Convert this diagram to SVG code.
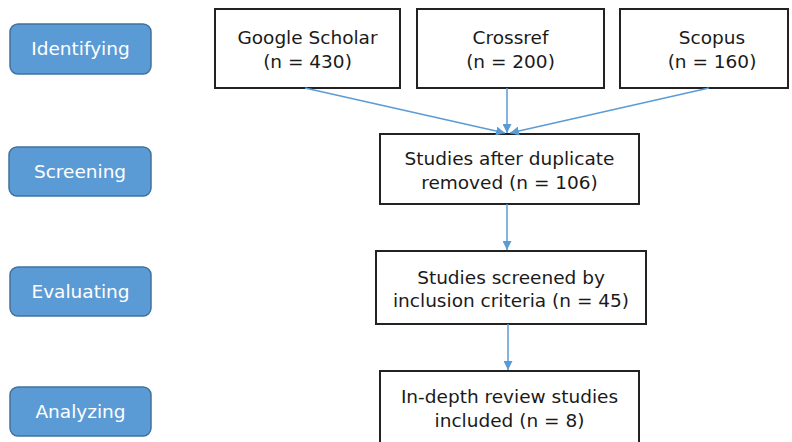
<svg xmlns="http://www.w3.org/2000/svg" width="792" height="442" viewBox="0 0 792 442">
<defs>
<style>
.stage rect{fill:#5b9bd5;stroke:#41719c;stroke-width:1.5}
.stage text{fill:#fff;font-family:"DejaVu Sans",Verdana,sans-serif;font-size:18.5px;text-anchor:middle}
.box rect{fill:#fff;stroke:#222;stroke-width:2}
.box text{fill:#1a1a1a;font-family:"DejaVu Sans",Verdana,sans-serif;font-size:18.5px;text-anchor:middle}
.conn line{stroke:#5b9bd5;stroke-width:1.5;marker-end:url(#ah)}
</style>
<marker id="ah" viewBox="0 0 10 10" refX="10" refY="5" markerWidth="9" markerHeight="9" orient="auto" markerUnits="userSpaceOnUse">
<path d="M0,0 L10,5 L0,10 z" fill="#5b9bd5"/>
</marker>
</defs>
<rect width="792" height="442" fill="#fff"/>
<g id="identifying" class="stage"><rect x="10" y="24" width="141" height="50" rx="8"/><text x="80.5" y="55">Identifying</text></g>
<g id="screening" class="stage"><rect x="9" y="147" width="142" height="49" rx="8"/><text x="80" y="178">Screening</text></g>
<g id="evaluating" class="stage"><rect x="10" y="267" width="141" height="49" rx="8"/><text x="80.5" y="298">Evaluating</text></g>
<g id="analyzing" class="stage"><rect x="10" y="387" width="141" height="49" rx="8"/><text x="80.5" y="418">Analyzing</text></g>
<g id="google" class="box"><rect x="215" y="9" width="185" height="79"/><text x="307.5" y="44">Google Scholar</text><text x="307.5" y="68">(n = 430)</text></g>
<g id="crossref" class="box"><rect x="417" y="9" width="187" height="79"/><text x="510.5" y="44">Crossref</text><text x="510.5" y="68">(n = 200)</text></g>
<g id="scopus" class="box"><rect x="620" y="9" width="168" height="79"/><text x="712" y="44">Scopus</text><text x="712" y="68">(n = 160)</text></g>
<g id="dedup" class="box"><rect x="380" y="134" width="259" height="70"/><text x="509.5" y="165">Studies after duplicate</text><text x="509.5" y="189">removed (n = 106)</text></g>
<g id="screened" class="box"><rect x="376" y="251" width="270" height="73"/><text x="511" y="284">Studies screened by</text><text x="511" y="307">inclusion criteria (n = 45)</text></g>
<g id="included" class="box"><rect x="380" y="371" width="259" height="80"/><text x="509.5" y="403">In-depth review studies</text><text x="509.5" y="427">included (n = 8)</text></g>
<g id="connectors" class="conn">
<line x1="305" y1="88" x2="505" y2="133"/>
<line x1="507" y1="88" x2="507" y2="133"/>
<line x1="709" y1="88" x2="510" y2="133"/>
<line x1="507" y1="204" x2="507" y2="250"/>
<line x1="508" y1="324" x2="508" y2="370"/>
</g>
</svg>
